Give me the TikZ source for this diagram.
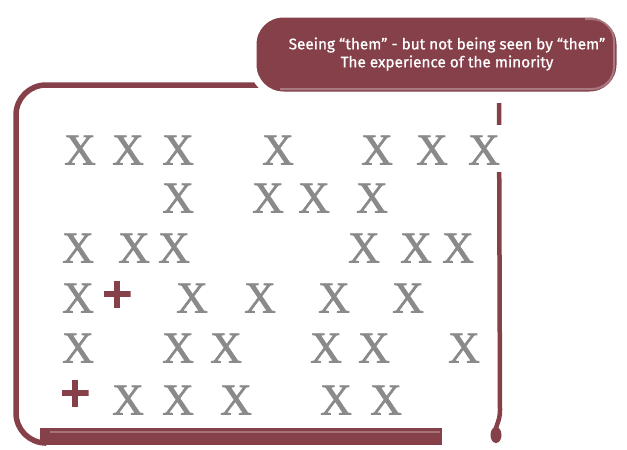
\documentclass[tikz,border=0pt]{standalone}
\usepackage{fontspec}
\newfontfamily\calloutfont[FakeBold=0.8]{Fira Sans}
\newfontfamily\xfont[FakeBold=1.2]{Liberation Serif}
\definecolor{maroon}{RGB}{133,64,74}
\definecolor{xgray}{RGB}{138,138,138}
\tikzset{
  xmark/.style={font=\xfont\fontsize{44}{44}\selectfont, text=xgray, inner sep=0pt, text height=29pt, text depth=0pt},
  plusnode/.style={minimum size=27pt, inner sep=0pt, path picture={
      \draw[maroon, line width=5.5pt]
        (path picture bounding box.west) -- (path picture bounding box.east)
        (path picture bounding box.north) -- (path picture bounding box.south);}},
  frameline/.style={draw=maroon, line width=5.5pt, line cap=round},
}
\begin{document}
\begin{tikzpicture}[x=1pt,y=-1pt]
\useasboundingbox (0,0) rectangle (627,450);
\fill[white] (0,0) rectangle (627,450);
% frame: top, left, bottom-left
\draw[frameline, rounded corners=30pt] (300,85) -- (16,85) -- (16,443) -- (45,443);
\draw[draw=maroon, line width=17pt] (40,436) -- (442,436);
\draw[draw=maroon!55!white, line width=1.5pt, opacity=0.6] (50,432) -- (440,432);
% right border
\draw[draw=maroon, line width=4.5pt] (499,103) -- (500,410) .. controls (500,422) and (495,426) .. (495,434);
\fill[maroon] (496,435) ellipse (5.5pt and 8pt);
\fill[white] (466,125) rectangle (502,172);
% callout
\draw[draw=white, line width=7pt, fill=maroon, rounded corners=30pt] (253,14) rectangle (620,95);
\draw[draw=white, opacity=0.3, line width=2pt, rounded corners=22pt] (585,19) -- (614,19) -- (614,89) -- (280,89);
\node[text=white, font=\calloutfont\fontsize{15.3}{18}\selectfont, align=center] (title) at (447,54)
  {Seeing “them” - but not being seen by “them”\\The experience of the minority};
% X marks
\foreach \x [count=\i] in {80,128,178,278,377,432,484} \node[xmark] (ra\i) at (\x,150) {X};
\foreach \x [count=\i] in {178,268,314,372} \node[xmark] (rb\i) at (\x,198) {X};
\foreach \x [count=\i] in {78,134,174,364,416,458} \node[xmark] (rc\i) at (\x,248) {X};
\foreach \x [count=\i] in {78,192,260,334,408} \node[xmark] (rd\i) at (\x,298) {X};
\foreach \x [count=\i] in {78,178,226,326,374,464} \node[xmark] (re\i) at (\x,348) {X};
\foreach \x [count=\i] in {128,178,236,336,386} \node[xmark] (rf\i) at (\x,400) {X};
\node[plusnode] (plusa) at (117,294) {};
\node[plusnode] (plusb) at (75,393) {};
\end{tikzpicture}
\end{document}
